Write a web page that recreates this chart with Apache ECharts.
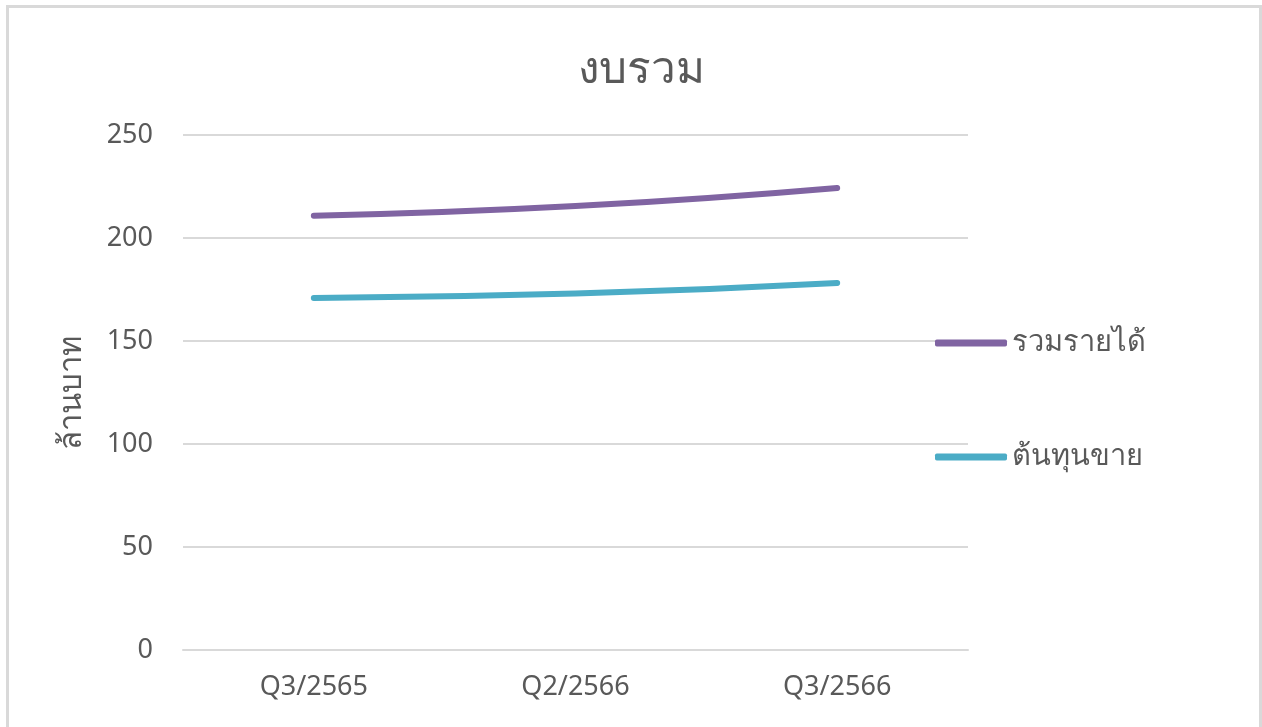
<!DOCTYPE html>
<html>
<head>
<meta charset="utf-8">
<script src="https://cdn.jsdelivr.net/npm/echarts@6/dist/echarts.min.js"></script>
<style>
    html, body {margin: 0; padding: 0; background: #fff;}
    #main {width: 1262px; height: 727px;}
</style>
</head>
<body>
<div id="main"></div>
<script>
var categories = ['Q3/2565', 'Q2/2566', 'Q3/2566'];
var revenue    = [210.8, 215.5, 224.3];
var costOfSale = [170.9, 173.0, 178.2];
var seriesNames = ['รวมรายได้', 'ต้นทุนขาย'];

var fontFamily = '"Noto Sans", "Open Sans", sans-serif';
var textColor  = '#595959';

var chart = echarts.init(document.getElementById('main'));

chart.setOption(
{
    animation: false,
    backgroundColor: '#fff',
    textStyle: {fontFamily: fontFamily},
    title:
    {
        text: 'งบรวม',
        left: 636,
        textAlign: 'center',
        top: 43,
        textStyle: {fontSize: 44, fontWeight: 'normal', color: textColor, fontFamily: fontFamily}
    },
    graphic: [
    {
        type: 'rect',
        silent: true,
        shape: {x: 7.5, y: 6.5, width: 1253, height: 740},
        style: {fill: 'none', stroke: '#d9d9d9', lineWidth: 3}
    }],
    legend:
    {
        orient: 'vertical',
        left: 930,
        top: 323,
        itemWidth: 72,
        itemHeight: 7,
        itemGap: 84,
        icon: 'roundRect',
        textStyle: {fontSize: 29, lineHeight: 30, color: textColor},
        data: seriesNames
    },
    grid: {left: 183, right: 294, top: 135, bottom: 77},
    xAxis:
    {
        type: 'category',
        data: categories,
        boundaryGap: true,
        axisLine: {show: true, lineStyle: {color: '#d9d9d9', width: 2}},
        axisTick: {show: false},
        axisLabel: {color: textColor, fontSize: 27, margin: 24}
    },
    yAxis:
    {
        type: 'value',
        min: 0,
        max: 250,
        interval: 50,
        name: 'ล้านบาท',
        nameLocation: 'middle',
        nameGap: 95,
        nameTextStyle: {color: textColor, fontSize: 31},
        axisLine: {show: false},
        axisTick: {show: false},
        axisLabel: {color: textColor, fontSize: 27, margin: 30},
        splitLine: {lineStyle: {color: '#d9d9d9', width: 2}}
    },
    series: [
    {
        name: seriesNames[0],
        type: 'line',
        data: revenue,
        smooth: true,
        showSymbol: false,
        symbol: 'none',
        color: '#8064A2',
        lineStyle: {width: 6, cap: 'round', color: '#8064A2'}
    },
    {
        name: seriesNames[1],
        type: 'line',
        data: costOfSale,
        smooth: true,
        showSymbol: false,
        symbol: 'none',
        color: '#4BACC6',
        lineStyle: {width: 6, cap: 'round', color: '#4BACC6'}
    }]
});
</script>
</body>
</html>
